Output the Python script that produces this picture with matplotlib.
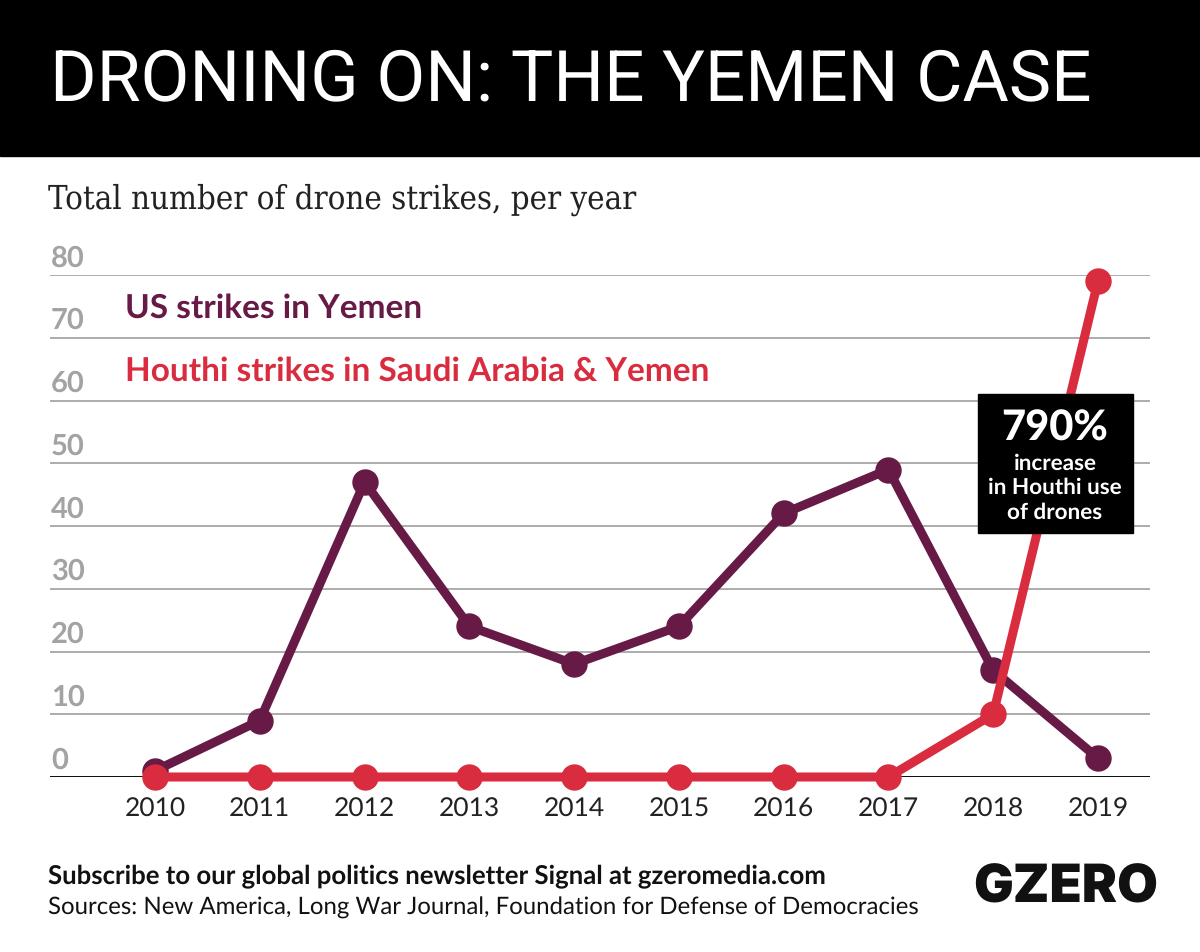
import matplotlib.pyplot as plt
from matplotlib.patches import Rectangle

years = [2010, 2011, 2012, 2013, 2014, 2015, 2016, 2017, 2018, 2019]
us_strikes = [1, 9, 47, 24, 18, 24, 42, 49, 17, 3]
houthi_strikes = [0, 0, 0, 0, 0, 0, 0, 0, 10, 79]
y_ticks = [0, 10, 20, 30, 40, 50, 60, 70, 80]

PURPLE = '#661a45'
RED = '#d92c3f'
GREY = '#a3a3a3'

plt.rcParams['font.family'] = ['Lato', 'DejaVu Sans']
plt.rcParams['text.hinting'] = 'no_hinting'

W, H = 1200, 952
fig = plt.figure(figsize=(W / 100, H / 100), dpi=100)

bg = fig.add_axes([0, 0, 1, 1])
bg.set_xlim(0, W)
bg.set_ylim(H, 0)
bg.axis('off')
bg.add_patch(Rectangle((0, 0), W, 156, color='black'))
bg.text(50, 81, 'DRONING ON: THE YEMEN CASE', color='white', fontsize=51.2,
        family='Roboto', va='center', ha='left')
bg.text(48, 200, 'Total number of drone strikes, per year', color='#222222',
        fontsize=23.6, family='DejaVu Serif', stretch='condensed', va='center', ha='left')
bg.text(48, 877, 'Subscribe to our global politics newsletter Signal at gzeromedia.com',
        fontsize=18.52, fontweight='bold', va='center', color='#111111')
bg.text(48, 908, 'Sources: New America, Long War Journal, Foundation for Defense of Democracies',
        fontsize=17.29, va='center', color='#111111')
bg.text(1158, 889, 'GZERO', fontsize=38, fontweight='black', family='Inter',
        va='center', ha='right', color='#111111')

# plot area: 0 at y=777, 80 at y=275
ax = fig.add_axes([50 / W, 1 - 777 / H, 1100 / W, (777 - 275) / H])
ax.set_ylim(0, 80)
ax.set_xlim(2010 - 105 / 104.7, 2019 + 52 / 104.7)
ax.patch.set_alpha(0)
for s in ax.spines.values():
    s.set_visible(False)
ax.set_yticks(y_ticks)
ax.set_yticklabels([])
ax.tick_params(length=0)
ax.grid(axis='y', color='#a6a6a6', lw=1.3)
ax.axhline(0, color='black', lw=2, zorder=2)
ax.set_axisbelow(True)
for v in y_ticks:
    ax.annotate(str(v), (0, v), xycoords=('axes fraction', 'data'), xytext=(1, 17),
                textcoords='offset pixels', color=GREY, fontsize=21, fontweight='bold',
                va='center', ha='left')
ax.set_xticks(years)
ax.set_xticklabels(years, fontsize=19, color='#222222')
ax.tick_params(axis='x', pad=15)

ax.plot(years, us_strikes, color=PURPLE, lw=6.5, marker='o', ms=18, clip_on=False, zorder=3)
ax.plot(years, houthi_strikes, color=RED, lw=6.5, marker='o', ms=18, clip_on=False, zorder=4)

# annotation sits above the lines
top = fig.add_axes([0, 0, 1, 1])
top.set_xlim(0, W)
top.set_ylim(H, 0)
top.axis('off')
top.patch.set_alpha(0)
top.text(125, 308, 'US strikes in Yemen', color=PURPLE, fontsize=24, fontweight='bold', va='center')
top.text(125, 371, 'Houthi strikes in Saudi Arabia & Yemen', color=RED, fontsize=24,
         fontweight='bold', va='center')
top.add_patch(Rectangle((978, 394), 155, 139, color='black'))
top.text(1055, 428, '790%', color='white', fontsize=30, fontweight='black', ha='center',
         va='center')
top.text(1055, 488, 'increase\nin Houthi use\nof drones', color='white', fontsize=16.2,
         fontweight='bold', ha='center', va='center', linespacing=1.25)

fig.savefig('out.png', dpi=100)
